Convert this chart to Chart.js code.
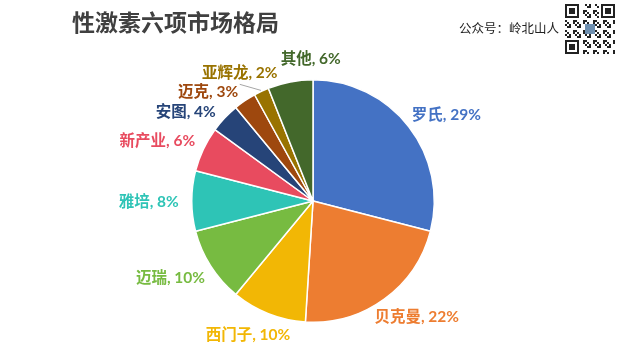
<!DOCTYPE html>
<html><head><meta charset="utf-8">
<script src="https://cdn.jsdelivr.net/npm/chart.js@4.4.1/dist/chart.umd.min.js"></script>
<style>html,body{margin:0;padding:0;background:#fff;}#wrap{width:624px;height:355px;position:relative;}</style>
</head><body><div id="wrap"><canvas id="c" width="624" height="355"></canvas></div>
<script>
const titleText = '性激素六项市场格局';
const sourceText = '公众号：岭北山人';
const categories = ['罗氏','贝克曼','西门子','迈瑞','雅培','新产业','安图','迈克','亚辉龙','其他'];
const shares = [29,22,10,10,8,6,4,3,2,6];
const colors = ['#4472C4','#ED7D31','#F2B705','#77BB41','#2EC4B6','#E84B5F','#264478','#9E480E','#997300','#43682B'];

const FONT = '"Noto Sans CJK SC","Noto Sans",sans-serif';
const LFONT = 'bold 15.5px Lato,"Noto Sans CJK SC",sans-serif';

const labelPlugin = {
  id:'outLabels',
  afterDatasetsDraw(chart){
    const ctx = chart.ctx;
    const meta = chart.getDatasetMeta(0);
    ctx.save();
    ctx.font = LFONT;
    const H = 17, gap = 13;
    const items = meta.data.map((arc,i)=>{
      const mid = (arc.startAngle+arc.endAngle)/2;
      const text = categories[i] + ', ' + shares[i] + '%';
      const w = ctx.measureText(text).width;
      return {i, arc, mid, ang:mid, text, w, cx:arc.x, cy:arc.y, R:arc.outerRadius};
    });
    function place(it, a){
      const r = it.R + gap;
      const ax = it.cx + r*Math.cos(a), ay = it.cy + r*Math.sin(a);
      it.bx = ax + Math.cos(a)*it.w/2;
      it.by = ay + Math.sin(a)*H/2;
      it.ang = a;
    }
    function overlaps(a,b){
      return Math.abs(a.bx-b.bx) < (a.w+b.w)/2 + 2 && Math.abs(a.by-b.by) < H + 2;
    }
    const order = items.slice().sort((a,b)=> shares[a.i]-shares[b.i] || a.i-b.i);
    const placed = [];
    order.forEach(it=>{
      place(it, it.mid);
      let hit = placed.find(p=>overlaps(it,p));
      if (hit){
        const dir = it.mid < hit.ang ? -1 : 1;
        let a = it.mid, n = 0;
        while (hit && n < 120){
          a += dir*Math.PI/360; place(it,a); n++;
          hit = placed.find(p=>overlaps(it,p));
        }
      }
      placed.push(it);
    });
    items.forEach(it=>{
      if (shares[it.i] <= 2){
        const sx = it.cx + (it.R+1)*Math.cos(it.mid), sy = it.cy + (it.R+1)*Math.sin(it.mid);
        ctx.strokeStyle = '#A6A6A6'; ctx.lineWidth = 1;
        ctx.beginPath(); ctx.moveTo(sx,sy); ctx.lineTo(it.bx, it.by + H/2 + 4); ctx.stroke();
      }
      ctx.fillStyle = colors[it.i];
      ctx.textAlign = 'center'; ctx.textBaseline = 'middle';
      ctx.fillText(it.text, it.bx, it.by+1);
    });
    ctx.restore();
  }
};

const decoPlugin = {
  id:'deco',
  afterDraw(chart){
    const ctx = chart.ctx;
    ctx.save();
    ctx.fillStyle = '#404040';
    ctx.font = 'bold 23px ' + FONT;
    ctx.textAlign = 'left'; ctx.textBaseline = 'middle';
    ctx.fillText(titleText, 72, 22);
    ctx.fillStyle = '#222';
    ctx.font = '12.5px ' + FONT;
    ctx.fillText(sourceText, 459, 28);
    // QR-like badge
    const x0 = 565, y0 = 4, s = 2;
    const N = 25;
    ctx.fillStyle = '#fff'; ctx.fillRect(x0,y0,N*s,N*s);
    ctx.fillStyle = '#222';
    for (let r=0;r<N;r++) for (let c=0;c<N;c++){
      const inFinder = (r<8&&c<8)||(r<8&&c>=N-8)||(r>=N-8&&c<8);
      if (inFinder) continue;
      if (((r*7 + c*13 + r*c) % 5) < 2) ctx.fillRect(x0+c*s, y0+r*s, s, s);
    }
    [[0,0],[0,N-7],[N-7,0]].forEach(([r,c])=>{
      ctx.fillStyle='#222'; ctx.fillRect(x0+c*s,y0+r*s,7*s,7*s);
      ctx.fillStyle='#fff'; ctx.fillRect(x0+(c+1)*s,y0+(r+1)*s,5*s,5*s);
      ctx.fillStyle='#222'; ctx.fillRect(x0+(c+2)*s,y0+(r+2)*s,3*s,3*s);
    });
    ctx.fillStyle = '#6d8fb0'; ctx.fillRect(x0+10*s, y0+10*s, 5*s, 5*s);
    ctx.restore();
  }
};

new Chart(document.getElementById('c'), {
  type:'pie',
  data:{ labels:categories, datasets:[{ data:shares, backgroundColor:colors, borderColor:'#fff', borderWidth:1.5 }]},
  options:{
    responsive:false, animation:false,
    layout:{ padding:{ left:191, right:189, top:79, bottom:32 } },
    plugins:{ legend:{display:false}, tooltip:{enabled:false} }
  },
  plugins:[labelPlugin, decoPlugin]
});
</script>
</body></html>
